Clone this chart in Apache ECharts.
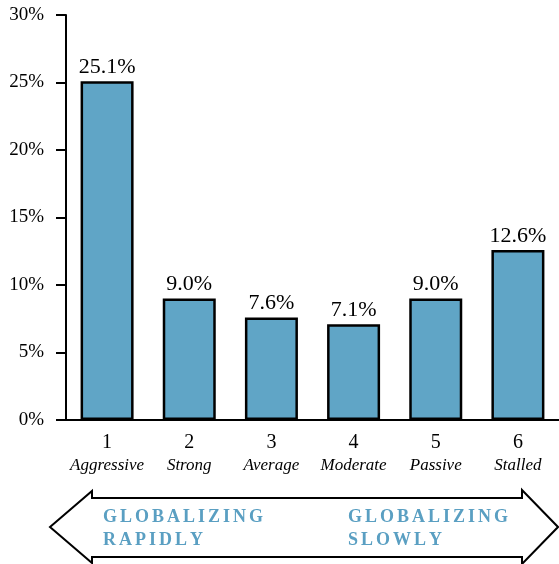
<!DOCTYPE html>
<html>
<head>
<meta charset="utf-8">
<script src="https://cdn.jsdelivr.net/npm/echarts@6/dist/echarts.min.js"></script>
<style>
	html, body { margin: 0; padding: 0; background: #fff; }
	#main { width: 559px; height: 564px; }
</style>
</head>
<body>
<div id="main"></div>
<script>
	// chart data
	var ranks = ['1', '2', '3', '4', '5', '6'];
	var names = ['Aggressive', 'Strong', 'Average', 'Moderate', 'Passive', 'Stalled'];
	var shares = [25.1, 9.0, 7.6, 7.1, 9.0, 12.6];
	var yTicks = [0, 5, 10, 15, 20, 25, 30];

	var serif = 'Liberation Serif';
	var blue = '#60a5c6';
	var gap = '\u2006';
	function spaced(s) { return s.split('').join(gap); }

	var chart = echarts.init(document.getElementById('main'));
	var option = {
		animation: false,
		grid: { left: 66, right: 0, top: 15, bottom: 144 },
		xAxis: {
			type: 'category',
			data: ranks,
			axisLine: { lineStyle: { color: '#000', width: 2 } },
			axisTick: { show: false },
			axisLabel: {
				interval: 0,
				margin: 11,
				color: '#000',
				formatter: function (v, i) {
					return '{n|' + v + '}\n{i|' + names[i] + '}';
				},
				rich: {
					n: { fontFamily: serif, fontSize: 20, lineHeight: 24, color: '#000' },
					i: { fontFamily: serif, fontSize: 17, fontStyle: 'italic', lineHeight: 22, color: '#000' }
				}
			}
		},
		yAxis: {
			type: 'value',
			min: yTicks[0],
			max: yTicks[yTicks.length - 1],
			interval: 5,
			splitLine: { show: false },
			axisLine: { show: true, lineStyle: { color: '#000', width: 2 } },
			axisTick: { show: true, length: 10, lineStyle: { color: '#000', width: 2 } },
			axisLabel: {
				margin: 22,
				color: '#000',
				fontFamily: serif,
				fontSize: 19,
				formatter: '{value}%'
			}
		},
		series: [{
			type: 'bar',
			data: shares,
			barWidth: 53,
			itemStyle: { color: blue, borderColor: '#000', borderWidth: 2.5 },
			label: {
				show: true,
				position: 'top',
				distance: 3,
				color: '#000',
				fontFamily: serif,
				fontSize: 22,
				formatter: function (p) { return p.value.toFixed(1) + '%'; }
			}
		}],
		graphic: [
			{
				type: 'polygon',
				shape: {
					points: [
						[50, 527], [92, 491], [92, 498], [522, 498], [522, 490],
						[558, 527], [522, 564], [522, 557], [92, 557], [92, 563]
					]
				},
				style: { fill: '#fff', stroke: '#000', lineWidth: 2 }
			},
			{
				type: 'text', left: 103, top: 506,
				style: {
					text: spaced('GLOBALIZING') + '\n' + spaced('RAPIDLY'),
					fill: '#5a9fc2', font: 'bold 18px Liberation Serif', lineHeight: 23, align: 'left'
				}
			},
			{
				type: 'text', right: 51, top: 506,
				style: {
					text: spaced('GLOBALIZING') + '\n' + spaced('SLOWLY'),
					fill: '#5a9fc2', font: 'bold 18px Liberation Serif', lineHeight: 23, align: 'right'
				}
			}
		]
	};
	chart.setOption(option);
</script>
</body>
</html>
